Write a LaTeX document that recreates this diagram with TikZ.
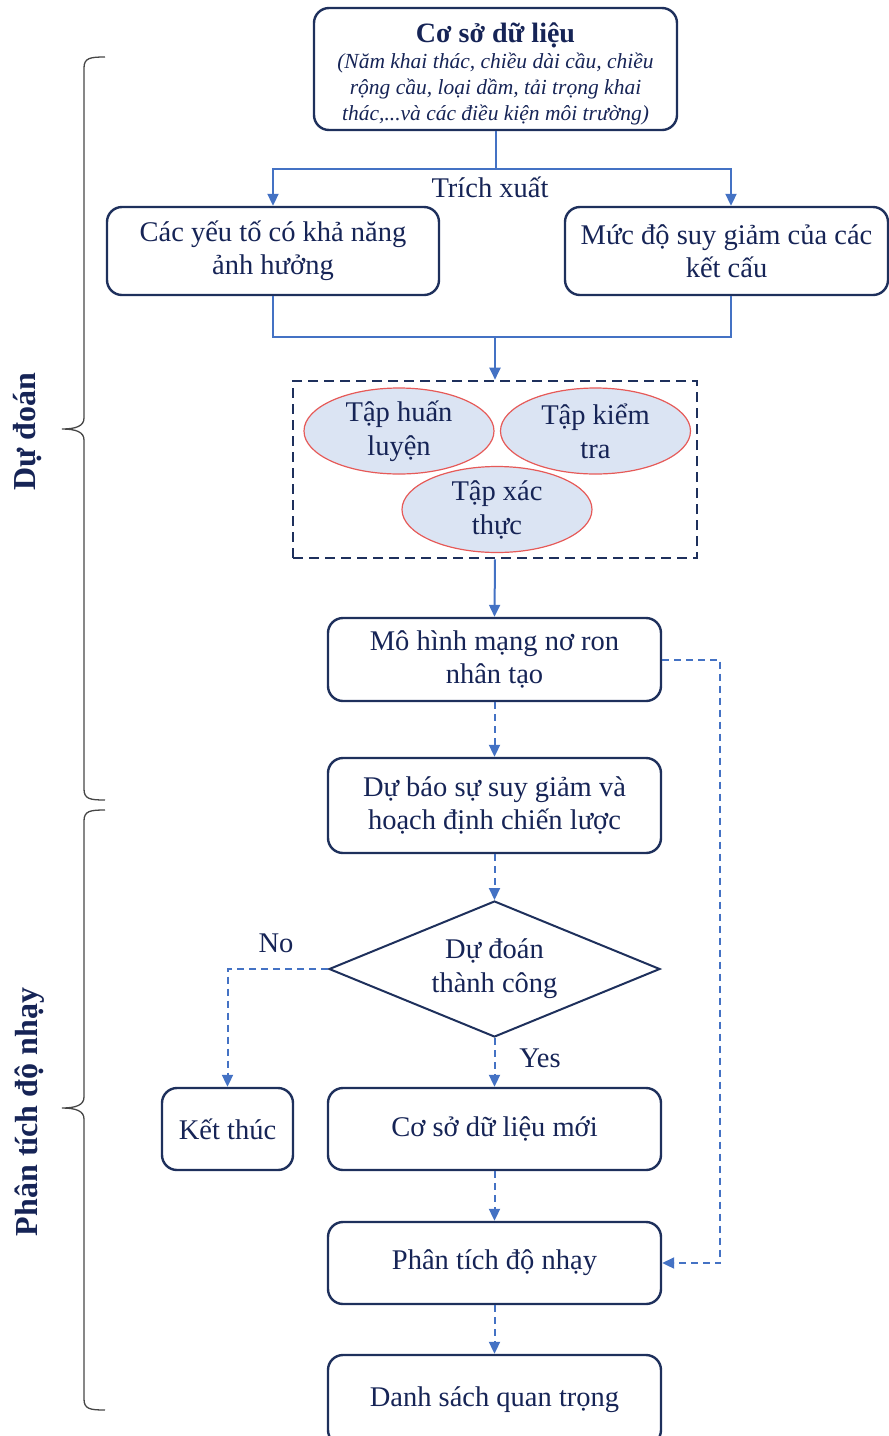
\documentclass[tikz,border=0pt]{standalone}
\usepackage{fontspec}
\setmainfont{Liberation Serif}
\usetikzlibrary{arrows.meta,shapes.geometric}

\definecolor{boxnavy}{RGB}{30,48,92}
\definecolor{txtnavy}{RGB}{22,36,86}
\definecolor{linkblue}{RGB}{68,114,196}
\definecolor{setfill}{RGB}{219,228,243}
\definecolor{setedge}{RGB}{230,90,88}
\definecolor{bracegray}{RGB}{70,70,70}

\newcommand{\subline}[1]{{\itshape #1}}

\begin{document}
\begin{tikzpicture}[x=1pt,y=-1pt,
	box/.style={draw=boxnavy,line width=2.4pt,rounded corners=15pt,align=center,inner sep=0pt,
		text=txtnavy,font=\fontsize{28.5}{33}\selectfont},
	setnode/.style={ellipse,draw=setedge,line width=1.2pt,fill=setfill,align=center,inner sep=0pt,
		minimum width=190pt,minimum height=86pt,text=txtnavy,font=\fontsize{28.5}{34}\selectfont},
	decision/.style={diamond,draw=boxnavy,line width=2pt,shape aspect=2.43,align=center,inner sep=0pt,
		minimum width=331pt,minimum height=136pt,text=txtnavy,font=\fontsize{28.5}{34}\selectfont},
	lbl/.style={text=txtnavy,font=\fontsize{28.5}{34}\selectfont,inner sep=0pt},
	side/.style={rotate=90,text=txtnavy,font=\fontsize{32}{36}\selectfont\bfseries,inner sep=0pt},
	link/.style={draw=linkblue,line width=2pt},
	flow/.style={link,-{Triangle[length=12pt,width=11pt]}},
	flowd/.style={flow,dash pattern=on 7pt off 5pt},
	brc/.style={draw=bracegray,line width=1.3pt}]
	\useasboundingbox (0,0) rectangle (889,1436);

	% data and extracted parts
	\node[box,minimum width=363pt,minimum height=122pt,font=\fontsize{21.5}{26}\selectfont] (db) at (495.5,69)
		{{\fontsize{28}{28}\selectfont\bfseries\rule{0pt}{30pt}Cơ sở dữ liệu}\\
		 \subline{(Năm khai thác, chiều dài cầu, chiều}\\
		 \subline{rộng cầu, loại dầm, tải trọng khai}\\
		 \subline{thác,...và các điều kiện môi trường)}};
	\node[box,minimum width=332pt,minimum height=88pt] (factors) at (273,251) {Các yếu tố có khả năng\\ảnh hưởng};
	\node[box,minimum width=323pt,minimum height=88pt] (degrade) at (726.5,251) {Mức độ suy giảm của các\\kết cấu};
	\node[lbl] (extract) at (490,187) {Trích xuất};

	% data sets
	\node[draw=boxnavy,line width=2.6pt,dash pattern=on 10pt off 6pt,minimum width=404pt,minimum height=177pt,inner sep=0pt] (splits) at (495,469.5) {};
	\node[setnode] (train) at (399,431) {Tập huấn\\luyện};
	\node[setnode] (test) at (595.5,431) {Tập kiểm\\tra};
	\node[setnode] (valid) at (497,509.5) {Tập xác\\thực};

	% model and analysis
	\node[box,minimum width=333pt,minimum height=83pt] (ann) at (494.5,659.5) {Mô hình mạng nơ ron\\nhân tạo};
	\node[box,minimum width=333pt,minimum height=95pt] (forecast) at (494.5,805.5) {Dự báo sự suy giảm và\\hoạch định chiến lược};
	\node[decision] (check) at (494.5,969) {Dự đoán\\thành công};
	\node[box,minimum width=131pt,minimum height=82pt] (finish) at (227.5,1129) {Kết thúc};
	\node[box,minimum width=333pt,minimum height=82pt] (newdb) at (494.5,1129) {Cơ sở dữ liệu mới};
	\node[box,minimum width=333pt,minimum height=82pt] (sens) at (494.5,1263) {Phân tích độ nhạy};
	\node[box,minimum width=333pt,minimum height=90pt] (rank) at (494.5,1400) {Danh sách quan trọng};
	\node[lbl] (no) at (276,943) {No};
	\node[lbl] (yes) at (540,1058) {Yes};

	% connectors
	\draw[link] (db.south) -- ++(0,38) coordinate (fork);
	\draw[flow] (fork) -| (factors.north);
	\draw[flow] (fork) -| ([xshift=4.5pt]degrade.north);
	\coordinate (merge) at (495,337);
	\draw[link] (factors.south) |- (merge) -| ([xshift=4.5pt]degrade.south);
	\draw[flow] (merge) -- (splits.north);
	\draw[flow] (splits.south) -- (ann.north);
	\draw[flowd] (ann.south) -- (forecast.north);
	\draw[flowd] (forecast.south) -- (check.north);
	\draw[flowd] (check.west) -| (finish.north);
	\draw[flowd] (check.south) -- (newdb.north);
	\draw[flowd] (newdb.south) -- (sens.north);
	\draw[flowd] (ann.east) -- ++(58,0) |- (sens.east);
	\draw[flowd] (sens.south) -- (rank.north);

	% braces and stage names
	\draw[brc] (105,57) .. controls (90,57) and (84,58) .. (84,68) -- (84,418)
		.. controls (84,426) and (76,429) .. (62,429) .. controls (76,429) and (84,432) .. (84,440)
		-- (84,789) .. controls (84,799) and (90,800) .. (105,800);
	\draw[brc] (105,810) .. controls (90,810) and (84,811) .. (84,821) -- (84,1097)
		.. controls (84,1105) and (76,1108) .. (62,1108) .. controls (76,1108) and (84,1111) .. (84,1119)
		-- (84,1399) .. controls (84,1409) and (90,1410) .. (105,1410);
	\node[side] (predict) at (28,432) {Dự đoán};
	\node[side] (sensitivity) at (30,1112) {Phân tích độ nhạy};
\end{tikzpicture}
\end{document}
